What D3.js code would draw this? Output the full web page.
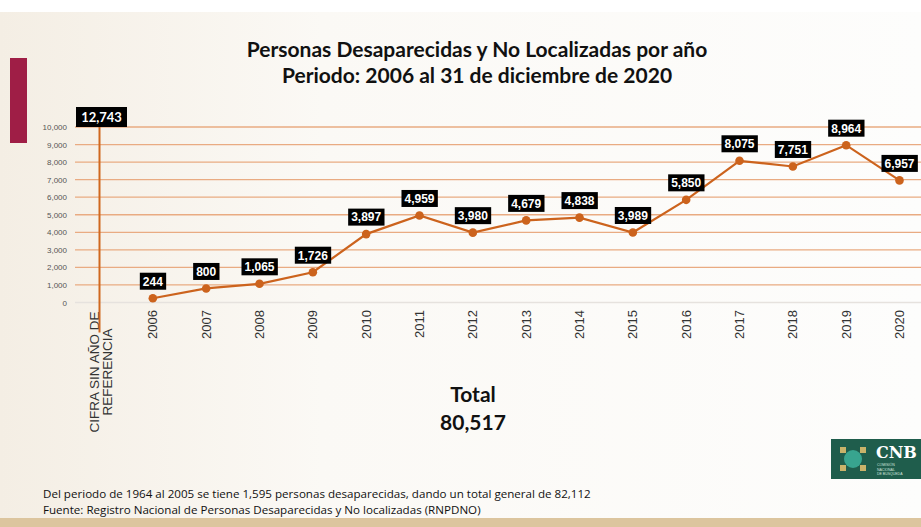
<!DOCTYPE html>
<html>
<head>
<meta charset="utf-8">
<script src="https://cdn.jsdelivr.net/npm/d3@7"></script>
<style>
  html, body { margin: 0; padding: 0; background: #fff; }
  svg { display: block; }
  .tick-y { font-family: 'Liberation Sans', Arial, sans-serif; font-size: 8px; fill: #555; }
  .tick-x { font-family: 'Liberation Sans', Arial, sans-serif; font-size: 13px; fill: #333; }
  .val { font-family: 'Liberation Sans', Arial, sans-serif; font-size: 12px; font-weight: bold; fill: #fff; }
  .title { font-family: Lato, 'Open Sans', sans-serif; font-size: 21px; font-weight: bold; fill: #111; }
  .total { font-family: Lato, 'Open Sans', sans-serif; font-size: 21px; font-weight: bold; fill: #111; }
  .note { font-family: 'Open Sans', sans-serif; font-size: 11.6px; fill: #111; }
</style>
</head>
<body>
<svg id="chart"></svg>
<script>
// categories and values
const categories = ['CIFRA', '2006', '2007', '2008', '2009', '2010', '2011', '2012',
    '2013', '2014', '2015', '2016', '2017', '2018', '2019', '2020'];
const years = categories.slice(1);
const persons = [244, 800, 1065, 1726, 3897, 4959, 3980, 4679, 4838, 3989, 5850, 8075, 7751, 8964, 6957];
const noYearValue = 12743;
const yTicks = [0, 1000, 2000, 3000, 4000, 5000, 6000, 7000, 8000, 9000, 10000];
const titleLines = ['Personas Desaparecidas y No Localizadas por año', 'Periodo: 2006 al 31 de diciembre de 2020'];
const totalLines = ['Total', '80,517'];
const noteLines = [
    'Del periodo de 1964 al 2005 se tiene 1,595 personas desaparecidas, dando un total general de 82,112',
    'Fuente: Registro Nacional de Personas Desaparecidas y No localizadas (RNPDNO)'
];

const width = 921, height = 527;
const fmt = d3.format(',');

const svg = d3.select('#chart')
    .attr('width', width)
    .attr('height', height);

// background and slide decoration
const defs = svg.append('defs');
const grad = defs.append('linearGradient').attr('id', 'bg').attr('x1', 0).attr('x2', 1);
grad.append('stop').attr('offset', 0).attr('stop-color', '#f4eee4');
grad.append('stop').attr('offset', 0.35).attr('stop-color', '#fbf9f5');
grad.append('stop').attr('offset', 1).attr('stop-color', '#fdfdfc');
svg.append('rect').attr('width', width).attr('height', height).attr('fill', 'url(#bg)');
svg.append('rect').attr('x', 0).attr('y', 0).attr('width', width).attr('height', 12).attr('fill', '#fff');
svg.append('rect').attr('x', 10).attr('y', 58).attr('width', 17).attr('height', 85).attr('fill', '#9f1e46');
svg.append('rect').attr('x', 0).attr('y', 518).attr('width', width).attr('height', 9).attr('fill', '#dcc59e');

// scales
const xScale = d3.scalePoint()
    .domain(categories)
    .range([99.5, 899.5]);

const yScale = d3.scaleLinear()
    .domain([0, 10000])
    .range([302.5, 127]);

// gridlines
const grid = svg.append('g');
grid.selectAll('line')
    .data(yTicks)
    .join('line')
    .attr('x1', 75)
    .attr('x2', width)
    .attr('y1', d => yScale(d))
    .attr('y2', d => yScale(d))
    .attr('stroke', d => d === 0 ? '#e6e2de' : '#e9ab82')
    .attr('stroke-width', 1.3);

// y tick labels
svg.append('g').selectAll('text')
    .data(yTicks)
    .join('text')
    .attr('class', 'tick-y')
    .attr('x', 67)
    .attr('y', d => yScale(d) + 3)
    .attr('text-anchor', 'end')
    .text(d => fmt(d));

// x tick labels (rotated)
svg.append('g').selectAll('text')
    .data(years)
    .join('text')
    .attr('class', 'tick-x')
    .attr('transform', d => `translate(${xScale(d) + 4.5},310) rotate(-90)`)
    .attr('text-anchor', 'end')
    .text(d => d);

const cifraLabel = svg.append('text')
    .attr('class', 'tick-x')
    .style('font-size', '13.5px')
    .attr('transform', `translate(${xScale('CIFRA')},372) rotate(-90)`)
    .attr('text-anchor', 'middle');
cifraLabel.append('tspan').attr('x', 0).attr('dy', -1).text('CIFRA SIN AÑO DE');
cifraLabel.append('tspan').attr('x', 0).attr('dy', 13.5).text('REFERENCIA');

// figure without reference year: a thin bar clipped at the axis top
const cx = xScale('CIFRA');
svg.append('line')
    .attr('x1', cx).attr('x2', cx)
    .attr('y1', yScale(0) + 30)
    .attr('y2', yScale(10000) - 10)
    .attr('stroke', '#d0681f')
    .attr('stroke-width', 2);

// main line
const points = years.map((y, i) => ({ year: y, value: persons[i] }));
const line = d3.line()
    .x(d => xScale(d.year))
    .y(d => yScale(d.value));

svg.append('path')
    .datum(points)
    .attr('d', line)
    .attr('fill', 'none')
    .attr('stroke', '#cc631d')
    .attr('stroke-width', 2.2);

svg.append('g').selectAll('circle')
    .data(points)
    .join('circle')
    .attr('cx', d => xScale(d.year))
    .attr('cy', d => yScale(d.value))
    .attr('r', 4.3)
    .attr('fill', '#cc631d');

// value labels in black boxes
const labels = svg.append('g').selectAll('g')
    .data(points)
    .join('g')
    .attr('transform', d => `translate(${xScale(d.year)},${yScale(d.value) - 17})`);

labels.append('text')
    .attr('class', 'val')
    .attr('text-anchor', 'middle')
    .attr('dy', '0.36em')
    .text(d => fmt(d.value));

labels.each(function() {
    const g = d3.select(this);
    const bb = g.select('text').node().getBBox();
    g.insert('rect', 'text')
        .attr('x', bb.x - 3)
        .attr('y', -8.5)
        .attr('width', bb.width + 6)
        .attr('height', 17)
        .attr('fill', '#000');
});

const cifraBox = svg.append('g')
    .attr('transform', `translate(${cx + 2},${yScale(10000) - 10})`);
cifraBox.append('rect')
    .attr('x', -25.5).attr('y', -10)
    .attr('width', 51).attr('height', 20)
    .attr('fill', '#000');
cifraBox.append('text')
    .attr('class', 'val')
    .style('font-family', "Lato, 'Open Sans', sans-serif")
    .style('font-size', '13px')
    .attr('text-anchor', 'middle')
    .attr('dy', '0.36em')
    .text(fmt(noYearValue));

// title
svg.append('g').selectAll('text')
    .data(titleLines)
    .join('text')
    .attr('class', 'title')
    .attr('x', 477)
    .attr('y', (d, i) => 57 + i * 26)
    .attr('text-anchor', 'middle')
    .text(d => d);

// total
svg.append('g').selectAll('text')
    .data(totalLines)
    .join('text')
    .attr('class', 'total')
    .attr('x', 473)
    .attr('y', (d, i) => 402 + i * 28)
    .attr('text-anchor', 'middle')
    .text(d => d);

// notes
svg.append('g').selectAll('text')
    .data(noteLines)
    .join('text')
    .attr('class', 'note')
    .attr('x', 43)
    .attr('y', (d, i) => 498 + i * 16)
    .text(d => d);

// CNB logo badge
const logo = svg.append('g').attr('transform', 'translate(831,439)');
logo.append('rect').attr('width', 90).attr('height', 40).attr('fill', '#1f5d4c');
logo.append('circle').attr('cx', 22).attr('cy', 20).attr('r', 9).attr('fill', '#3fb7a0').attr('opacity', 0.8);
[[12, 11], [32, 11], [12, 29], [32, 29]].forEach(p => {
    logo.append('rect').attr('x', p[0] - 3).attr('y', p[1] - 3).attr('width', 6).attr('height', 6).attr('fill', '#c9b36a');
});
logo.append('text')
    .attr('x', 45).attr('y', 19)
    .style('font-family', "'DejaVu Serif', serif")
    .style('font-size', '16px')
    .style('font-weight', 'bold')
    .attr('fill', '#fff')
    .text('CNB');
logo.append('text')
    .attr('x', 46).attr('y', 27)
    .style('font-family', "'Liberation Sans', sans-serif")
    .style('font-size', '3.5px')
    .attr('fill', '#cfe3dc')
    .text('COMISIÓN');
logo.append('text')
    .attr('x', 46).attr('y', 31.5)
    .style('font-family', "'Liberation Sans', sans-serif")
    .style('font-size', '3.5px')
    .attr('fill', '#cfe3dc')
    .text('NACIONAL');
logo.append('text')
    .attr('x', 46).attr('y', 36)
    .style('font-family', "'Liberation Sans', sans-serif")
    .style('font-size', '3.5px')
    .attr('fill', '#cfe3dc')
    .text('DE BÚSQUEDA');
</script>
</body>
</html>
